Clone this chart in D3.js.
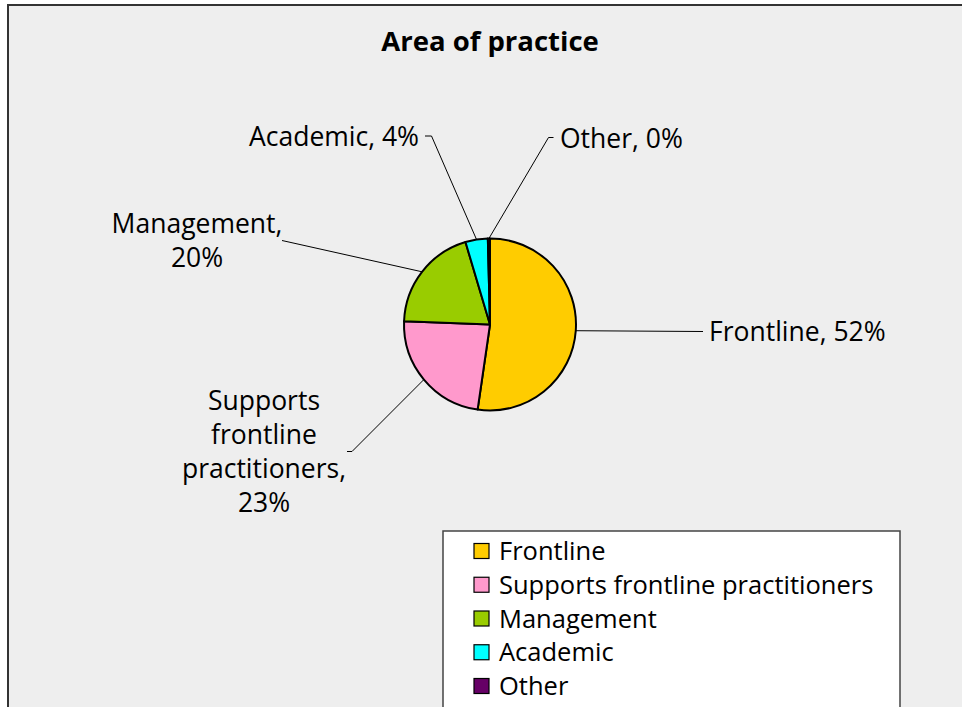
<!DOCTYPE html>
<html>
<head>
<meta charset="utf-8">
<script src="https://cdn.jsdelivr.net/npm/d3@7"></script>
<style>
  html, body { margin: 0; padding: 0; background: #ffffff; }
  svg { display: block; }
  text { font-family: "Open Sans", "Noto Sans", sans-serif; fill: #000; }
</style>
</head>
<body>
<script>
// ---- data ----
const categories = ["Frontline", "Supports frontline practitioners", "Management", "Academic", "Other"];
const values = [52.3, 23.3, 19.8, 4.2, 0.4];
const percentLabels = ["52%", "23%", "20%", "4%", "0%"];
const labelLines = [
  ["Frontline, 52%"],
  ["Supports", "frontline", "practitioners,", "23%"],
  ["Management,", "20%"],
  ["Academic, 4%"],
  ["Other, 0%"]
];
const colors = ["#FFCC00", "#FF99CC", "#99CC00", "#00FFFF", "#660066"];
const title = "Area of practice";

// ---- layout ----
const W = 962, H = 707;
const cx = 490, cy = 324.5, R = 86;
const titleSize = 27.5;
const labelSize = 26.5;
const legendSize = 25.5;
const lineH = 34;
const labelLayout = [
  { end: [703, 331.5], tick: null, anchor: "start", tx: 709, ty: 341 },
  { end: [352, 451.5], tick: [347, 451.5], anchor: "middle", tx: 264, ty: 410 },
  { end: [282, 240.5], tick: null, anchor: "middle", tx: 197, ty: 233 },
  { end: [431.5, 136], tick: [425, 136], anchor: "end", tx: 419, ty: 146 },
  { end: [548.5, 137.5], tick: [553.5, 137.5], anchor: "start", tx: 560, ty: 148 }
];

const svg = d3.select("body").append("svg").attr("width", W).attr("height", H);

// background + frame
svg.append("rect").attr("x", 0).attr("y", 0).attr("width", W).attr("height", H).attr("fill", "#ffffff");
svg.append("rect").attr("x", 8).attr("y", 5).attr("width", W + 20).attr("height", H + 20)
  .attr("fill", "#EEEEEE").attr("stroke", "#333333").attr("stroke-width", 2);

// title
svg.append("text").attr("x", 490).attr("y", 50.5).attr("text-anchor", "middle")
  .attr("font-weight", "bold").attr("font-size", titleSize).text(title);

// pie
const pie = d3.pie().sort(null).value(d => d);
const arcs = pie(values);
const arc = d3.arc().innerRadius(0).outerRadius(R);
const g = svg.append("g").attr("transform", `translate(${cx},${cy})`);
g.selectAll("path.slice").data(arcs).join("path")
  .attr("class", "slice")
  .attr("d", arc)
  .attr("fill", (d, i) => colors[i])
  .attr("stroke", "#000").attr("stroke-width", 2).attr("stroke-linejoin", "round");

// leader lines + data labels
const edgeArc = d3.arc().innerRadius(R).outerRadius(R);
arcs.forEach((a, i) => {
  const c = edgeArc.centroid(a);
  const L = labelLayout[i];
  const pts = [[cx + c[0], cy + c[1]], L.end];
  if (L.tick) pts.push(L.tick);
  svg.append("path").attr("d", d3.line()(pts))
    .attr("fill", "none").attr("stroke", "#000").attr("stroke-width", 1);
  const t = svg.append("text").attr("text-anchor", L.anchor).attr("font-size", labelSize);
  labelLines[i].forEach((ln, k) => {
    t.append("tspan").attr("x", L.tx).attr("y", L.ty + k * lineH).text(ln);
  });
});

// legend
const lg = svg.append("g");
lg.append("rect").attr("x", 443).attr("y", 531).attr("width", 457).attr("height", 200)
  .attr("fill", "#ffffff").attr("stroke", "#444").attr("stroke-width", 1.5);
const ly = d3.scalePoint().domain(categories).range([560, 695]);
categories.forEach((c, i) => {
  const y = ly(c);
  lg.append("rect").attr("x", 474).attr("y", y - 16.5).attr("width", 15).attr("height", 15)
    .attr("fill", colors[i]).attr("stroke", "#000").attr("stroke-width", 1.2);
  lg.append("text").attr("x", 499).attr("y", y).attr("font-size", legendSize).text(c);
});
</script>
</body>
</html>
